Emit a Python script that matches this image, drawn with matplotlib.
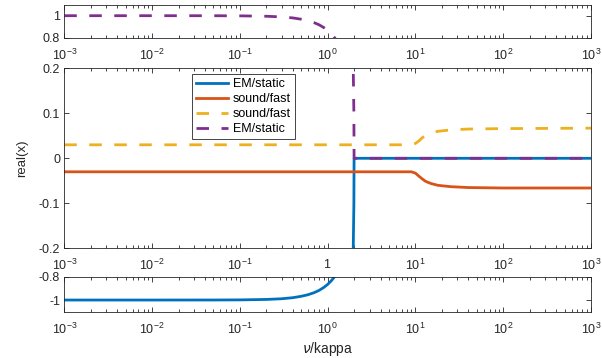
import matplotlib
matplotlib.use('Agg')
import matplotlib.pyplot as plt
from matplotlib.ticker import LogLocator, NullFormatter, FixedLocator, FixedFormatter

plt.rcParams['font.family'] = ['Liberation Sans', 'DejaVu Sans']
plt.rcParams['mathtext.default'] = 'regular'
plt.rcParams['axes.unicode_minus'] = False
plt.rcParams['lines.scale_dashes'] = False

# real parts of the four roots against nu/kappa
nu_em = [1e-3, 1e-2, 0.05, 0.1, 0.2, 0.3, 0.4, 0.5, 0.6, 0.7, 0.8, 0.9, 1.0,
         1.1, 1.2, 1.3, 1.4, 1.5, 1.6, 1.7, 1.8, 1.9, 1.95, 1.99, 2.0, 1e3]
em_static_neg = [-1.0, -1.0, -0.9997, -0.9987, -0.995, -0.989, -0.980, -0.968,
                 -0.954, -0.937, -0.917, -0.893, -0.866, -0.835, -0.800, -0.760,
                 -0.714, -0.661, -0.600, -0.527, -0.436, -0.312, -0.222, -0.100,
                 0.0, 0.0]
em_static_pos = [1.0, 1.0, 0.9997, 0.9987, 0.995, 0.989, 0.980, 0.968,
                 0.954, 0.937, 0.917, 0.893, 0.866, 0.835, 0.800, 0.760,
                 0.714, 0.661, 0.600, 0.527, 0.436, 0.312, 0.222, 0.100,
                 0.0, 0.0]

nu_sound = [1e-3, 1.0, 5.0, 9.0, 10.0, 11.0, 12.0, 13.0, 15.0, 18.0, 25.0,
            40.0, 100.0, 1e3]
sound_fast_neg = [-0.030, -0.030, -0.030, -0.030, -0.033, -0.040, -0.046,
                  -0.051, -0.056, -0.060, -0.063, -0.065, -0.066, -0.066]
sound_fast_pos = [0.030, 0.030, 0.030, 0.030, 0.033, 0.039, 0.046,
                  0.050, 0.056, 0.060, 0.063, 0.065, 0.066, 0.067]

labels = ['EM/static', 'sound/fast', 'sound/fast', 'EM/static']
colors = ['#0072BD', '#D95319', '#EDB120', '#7E2F8E']
series = [(nu_em, em_static_neg), (nu_sound, sound_fast_neg),
          (nu_sound, sound_fast_pos), (nu_em, em_static_pos)]
dashed = [False, False, True, True]

xticks = [1e-3, 1e-2, 1e-1, 1, 1e1, 1e2, 1e3]
xlabels = ['$10^{-3}$', '$10^{-2}$', '$10^{-1}$', '$10^{0}$', '$10^{1}$', '$10^{2}$', '$10^{3}$']
xlabels_mid = ['$10^{-3}$', '$10^{-2}$', '$10^{-1}$', r'$1^{\ }$', '$10^{1}$', '$10^{2}$', '$10^{3}$']

fig = plt.figure(figsize=(6.02, 3.58), dpi=100)
W, H = 602, 358


def box(l, t, r, b):
    return [l / W, 1 - b / H, (r - l) / W, (b - t) / H]


ax_top = fig.add_axes(box(64.3, 4.7, 591, 37.7))
ax_mid = fig.add_axes(box(64.3, 68.3, 591, 248.3))
ax_bot = fig.add_axes(box(64.3, 276.7, 591, 311.7))

gray = '#262626'
for ax, xl in [(ax_top, xlabels), (ax_mid, xlabels_mid), (ax_bot, xlabels)]:
    for (x, y), c, lab, d in zip(series, colors, labels, dashed):
        if d:
            ax.plot(x, y, color=c, lw=2, linestyle='--', dashes=(9, 9), label=lab)
        else:
            ax.plot(x, y, color=c, lw=2, label=lab)
    ax.set_xscale('log')
    ax.set_xlim(1e-3, 1e3)
    ax.xaxis.set_major_locator(FixedLocator(xticks))
    ax.xaxis.set_major_formatter(FixedFormatter(xl))
    ax.xaxis.set_minor_locator(LogLocator(base=10, subs=range(2, 10), numticks=20))
    ax.xaxis.set_minor_formatter(NullFormatter())
    ax.tick_params(which='both', direction='in', top=True, right=True,
                   color=gray, labelcolor=gray, labelsize=9, width=0.6)
    ax.tick_params(which='major', length=3.6)
    ax.tick_params(which='minor', length=2.2)
    ax.tick_params(axis='x', pad=7)
    ax.tick_params(axis='y', pad=3)
    for s in ax.spines.values():
        s.set_color(gray)
        s.set_linewidth(0.6)

ax_top.set_ylim(0.8, 1.1)
ax_top.set_yticks([0.8, 1.0])
ax_top.set_yticklabels(['0.8', '1'])

ax_mid.set_ylim(-0.2, 0.2)
ax_mid.set_yticks([-0.2, -0.1, 0, 0.1, 0.2])
ax_mid.set_yticklabels(['-0.2', '-0.1', '0', '0.1', '0.2'])
ax_mid.set_ylabel('real(x)', fontsize=9.5, color=gray)
ax_mid.yaxis.set_label_coords(-0.069, 0.5)

ax_bot.set_ylim(-1.1, -0.8)
ax_bot.set_yticks([-1.0, -0.8])
ax_bot.set_yticklabels(['-1', '-0.8'])
ax_bot.set_xlabel(r'$\mathit{\nu}$/kappa', fontsize=10, color=gray)
ax_bot.xaxis.set_label_coords(0.5, -0.81)

leg = ax_mid.legend(loc='upper left', bbox_to_anchor=(0.242, 0.967), borderaxespad=0,
                    fancybox=False, edgecolor=gray, framealpha=1, fontsize=9,
                    handlelength=2.6, handletextpad=0.4, labelspacing=0.25, borderpad=0.3)
leg.get_frame().set_linewidth(0.6)

fig.savefig('out.png', dpi=100)
